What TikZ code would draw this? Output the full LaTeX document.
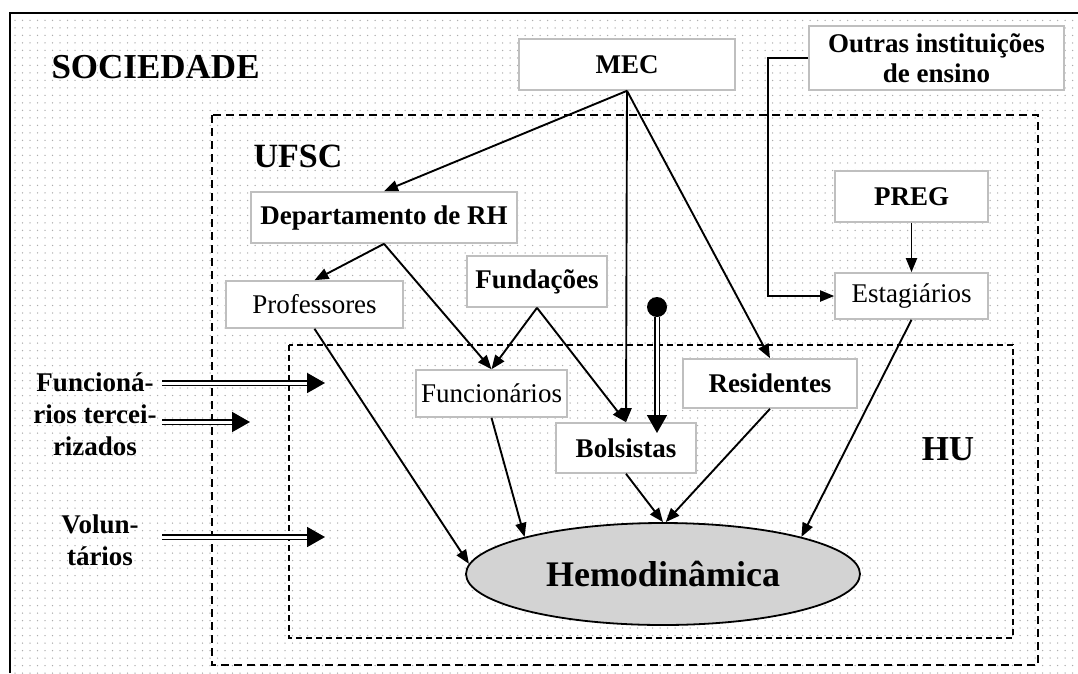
\documentclass[tikz,border=0pt]{standalone}
\usepackage{fontspec}
\setmainfont{Liberation Serif}
\usetikzlibrary{arrows.meta,patterns.meta,shapes.geometric}
\definecolor{boxgray}{HTML}{BFBFBF}
\definecolor{hemogray}{HTML}{D3D3D3}

\begin{document}
\begin{tikzpicture}[x=1pt, y=-1pt,
    txt/.style={font=\bfseries\fontsize{27}{32}\selectfont, align=center},
    box/.style={txt, draw=boxgray, line width=1.6, fill=white, inner sep=0},
    plainbox/.style={box, font=\fontsize{27}{32}\selectfont},
    arr/.style={line width=1.9, -{Triangle[length=14pt, width=11pt]}},
    dbl/.style={double, double distance=3, line width=1.8, -{Triangle[length=18pt, width=20pt]}}]
      \useasboundingbox (0,0) rectangle (1078,673);
      \fill[pattern={Dots[distance=7.5pt, radius=0.75pt]}, pattern color=black!32] (10,13) rectangle (1078,673);
      \draw[line width=2] (10,673) -- (10,13) -- (1078,13);
      \draw[line width=2.2, dash pattern=on 8pt off 5pt] (212,115) rectangle (1038,665);
      \draw[line width=1.4, dash pattern=on 6pt off 4pt] (289,345) rectangle (1013,638);

      \node[txt, font=\bfseries\fontsize{35}{38}\selectfont, anchor=base west] (soc) at (48,78) {SOCIEDADE};
      \node[txt, font=\bfseries\fontsize{34}{36}\selectfont, anchor=base west] (ufsc) at (250,167) {UFSC};
      \node[txt, font=\bfseries\fontsize{35}{36}\selectfont] (hu) at (948,449) {HU};

      \node[box, minimum width=216, minimum height=51] (mec) at (627,64.5) {MEC};
      \node[box, minimum width=255, minimum height=64, font=\bfseries\fontsize{27}{30}\selectfont] (outras) at (936.5,58) {Outras instituições\\de ensino};
      \node[box, minimum width=266, minimum height=51] (dept) at (384,217.5) {Departamento de RH};
      \node[plainbox, minimum width=177, minimum height=47] (prof) at (314.5,304.5) {Professores};
      \node[box, minimum width=140, minimum height=51] (fund) at (537,281.5) {Fundações};
      \node[plainbox, minimum width=151, minimum height=47] (func) at (491.5,393.5) {Funcionários};
      \node[box, minimum width=140, minimum height=50] (bols) at (626,448) {Bolsistas};
      \node[box, minimum width=174, minimum height=49] (resid) at (770,383.5) {Residentes};
      \node[box, minimum width=153, minimum height=51] (preg) at (911.5,196.5) {PREG};
      \node[plainbox, minimum width=153, minimum height=46] (estag) at (911.5,296) {Estagiários};
      \node[ellipse, draw, line width=1.8, fill=hemogray, inner sep=0, minimum width=394, minimum height=102,
            font=\bfseries\fontsize{36}{40}\selectfont] (hemo) at (663,574) {Hemodinâmica};

      \node[txt] (terc) at (95,414) {Funcioná-\\rios tercei-\\rizados};
      \node[txt] (vol) at (100,540) {Volun-\\tários};
      \node[circle, fill, inner sep=0, minimum size=20] (src) at (657,307) {};

      \draw[arr] (mec.south) -- (dept.north);
      \draw[arr] (mec.south) -- (bols.north);
      \draw[arr] (mec.south) -- (resid.north);
      \draw[arr] (dept.south) -- (prof.north);
      \draw[arr] (dept.south) -- (func.north);
      \draw[arr] (fund.south) -- (func.north);
      \draw[arr] (fund.south) -- (bols.north);
      \draw[arr] (outras.west) -- ++(-40,0) |- (estag.west);
      \draw[arr] (preg.south) -- (estag.north);
      \draw[arr] (prof.south) -- (hemo.177);
      \draw[arr] (func.south) -- (hemo.165);
      \draw[arr] (bols.south) -- (hemo.north);
      \draw[arr] (resid.south) -- (hemo.87);
      \draw[arr] (estag.south) -- (hemo.15);

      \coordinate (dtip) at (657,433);
      \draw[dbl] (src.south) -- (dtip);
      \coordinate (t1s) at (162,383);
      \coordinate (t1e) at (325,383);
      \coordinate (t2s) at (162,422);
      \coordinate (t2e) at (250,422);
      \coordinate (v1s) at (162,537);
      \coordinate (v1e) at (325,537);
      \draw[dbl] (t1s) -- (t1e);
      \draw[dbl] (t2s) -- (t2e);
      \draw[dbl] (v1s) -- (v1e);
\end{tikzpicture}
\end{document}
